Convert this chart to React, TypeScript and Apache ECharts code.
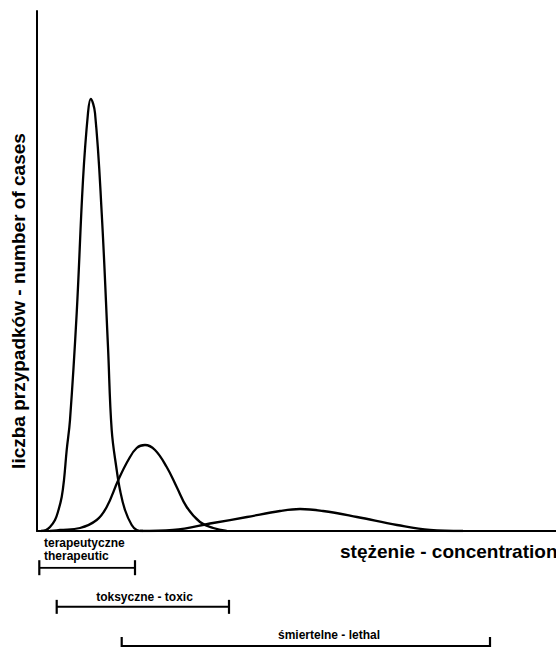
import React, { useEffect, useRef } from "react";
import * as echarts from "echarts";

// Distribution curves: [concentration, number of cases] (arbitrary units)
const therapeuticCurve: [number, number][] = [
  [4, 0], [9, 1], [13, 4], [18, 11], [21.5, 21], [24.7, 34], [27, 51], [29.7, 81],
  [33, 111], [39.7, 218], [46, 351], [51, 418], [53.7, 432], [58, 418], [64.7, 318],
  [71, 184], [74.7, 101], [79.7, 61], [83, 41], [88, 21], [94.7, 6], [99.7, 1], [106, 0],
];
const toxicCurve: [number, number][] = [
  [13, 0], [23, 1], [43, 3], [59.7, 11], [69.7, 24], [81.3, 51], [91.3, 71], [99.7, 83],
  [108, 86], [118, 81], [129.7, 64], [139.7, 44], [149.7, 24], [163, 9], [176.3, 3],
  [189.7, 0],
];
const lethalCurve: [number, number][] = [
  [103, 0], [136, 1], [176, 8], [210, 14], [243, 20], [263, 22], [286, 20],
  [320, 14], [360, 6], [393, 1], [426, 0],
];

// Concentration ranges
const rangeCategories = ["terapeutyczne", "toksyczne", "śmiertelne"];
const therapeuticRange: [number, number] = [2.3, 98];
const toxicRange: [number, number] = [19.7, 192];
const lethalRange: [number, number] = [84.7, 453];

const xMax = 519;
const yMax = 520;

const FONT = "'Liberation Sans', Arial, Helvetica, sans-serif";

export default function App() {
  const ref = useRef<HTMLDivElement>(null);

  useEffect(() => {
    if (!ref.current) return;
    const chart = echarts.init(ref.current, undefined, { renderer: "svg" });

    const curveSeries = (data: [number, number][]) => ({
      type: "line",
      xAxisIndex: 0,
      yAxisIndex: 0,
      data,
      smooth: 0.4,
      showSymbol: false,
      symbol: "none",
      lineStyle: { color: "#000", width: 2.3 },
      silent: true,
    });

    const rangeSeries = (r: [number, number], cat: string, tick: number) => ({
      type: "line",
      xAxisIndex: 1,
      yAxisIndex: 1,
      data: [
        [r[0], cat],
        [r[1], cat],
      ],
      symbol: "rect",
      symbolSize: [2.2, tick],
      showSymbol: true,
      itemStyle: { color: "#000" },
      lineStyle: { color: "#000", width: 2 },
      silent: true,
    });

    const textStyle = (size: number) => ({
      fontFamily: FONT,
      fontWeight: "bold",
      fontSize: size,
      fill: "#000",
    });

    chart.setOption({
      animation: false,
      backgroundColor: "#fff",
      grid: [
        { left: 37, top: 11, width: 519, height: 520 },
        { left: 37, top: 567.7, width: 519, height: 78.3 },
      ],
      xAxis: [
        {
          type: "value",
          gridIndex: 0,
          min: 0,
          max: xMax,
          axisLine: { show: true, lineStyle: { color: "#000", width: 2 } },
          axisTick: { show: false },
          axisLabel: { show: false },
          splitLine: { show: false },
        },
        {
          type: "value",
          gridIndex: 1,
          min: 0,
          max: xMax,
          show: false,
        },
      ],
      yAxis: [
        {
          type: "value",
          gridIndex: 0,
          min: 0,
          max: yMax,
          axisLine: { show: true, lineStyle: { color: "#000", width: 2 } },
          axisTick: { show: false },
          axisLabel: { show: false },
          splitLine: { show: false },
        },
        {
          type: "category",
          gridIndex: 1,
          data: rangeCategories,
          inverse: true,
          boundaryGap: false,
          show: false,
        },
      ],
      series: [
        curveSeries(therapeuticCurve),
        curveSeries(toxicCurve),
        curveSeries(lethalCurve),
        rangeSeries(therapeuticRange, rangeCategories[0], 15),
        rangeSeries(toxicRange, rangeCategories[1], 14),
        rangeSeries(lethalRange, rangeCategories[2], 18),
      ],
      graphic: [
        {
          type: "text",
          x: 18.5,
          y: 301,
          rotation: Math.PI / 2,
          style: {
            text: "liczba przypadków - number of cases",
            ...textStyle(19),
            textAlign: "center",
            textVerticalAlign: "middle",
          },
        },
        {
          type: "text",
          x: 340,
          y: 551.5,
          style: {
            text: "stężenie - concentration",
            ...textStyle(19),
            textAlign: "left",
            textVerticalAlign: "middle",
          },
        },
        {
          type: "text",
          x: 44,
          y: 542.5,
          style: {
            text: "terapeutyczne",
            ...textStyle(12),
            textAlign: "left",
            textVerticalAlign: "middle",
          },
        },
        {
          type: "text",
          x: 44,
          y: 555.5,
          style: {
            text: "therapeutic",
            ...textStyle(12),
            textAlign: "left",
            textVerticalAlign: "middle",
          },
        },
        {
          type: "text",
          x: 144.5,
          y: 596.7,
          style: {
            text: "toksyczne - toxic",
            ...textStyle(12),
            textAlign: "center",
            textVerticalAlign: "middle",
          },
        },
        {
          type: "text",
          x: 329,
          y: 634.7,
          style: {
            text: "śmiertelne - lethal",
            ...textStyle(12),
            textAlign: "center",
            textVerticalAlign: "middle",
          },
        },
      ],
    });

    return () => chart.dispose();
  }, []);

  return (
    <div
      ref={ref}
      style={{ position: "fixed", left: 0, top: 0, width: 556, height: 647, background: "#fff" }}
    />
  );
}
